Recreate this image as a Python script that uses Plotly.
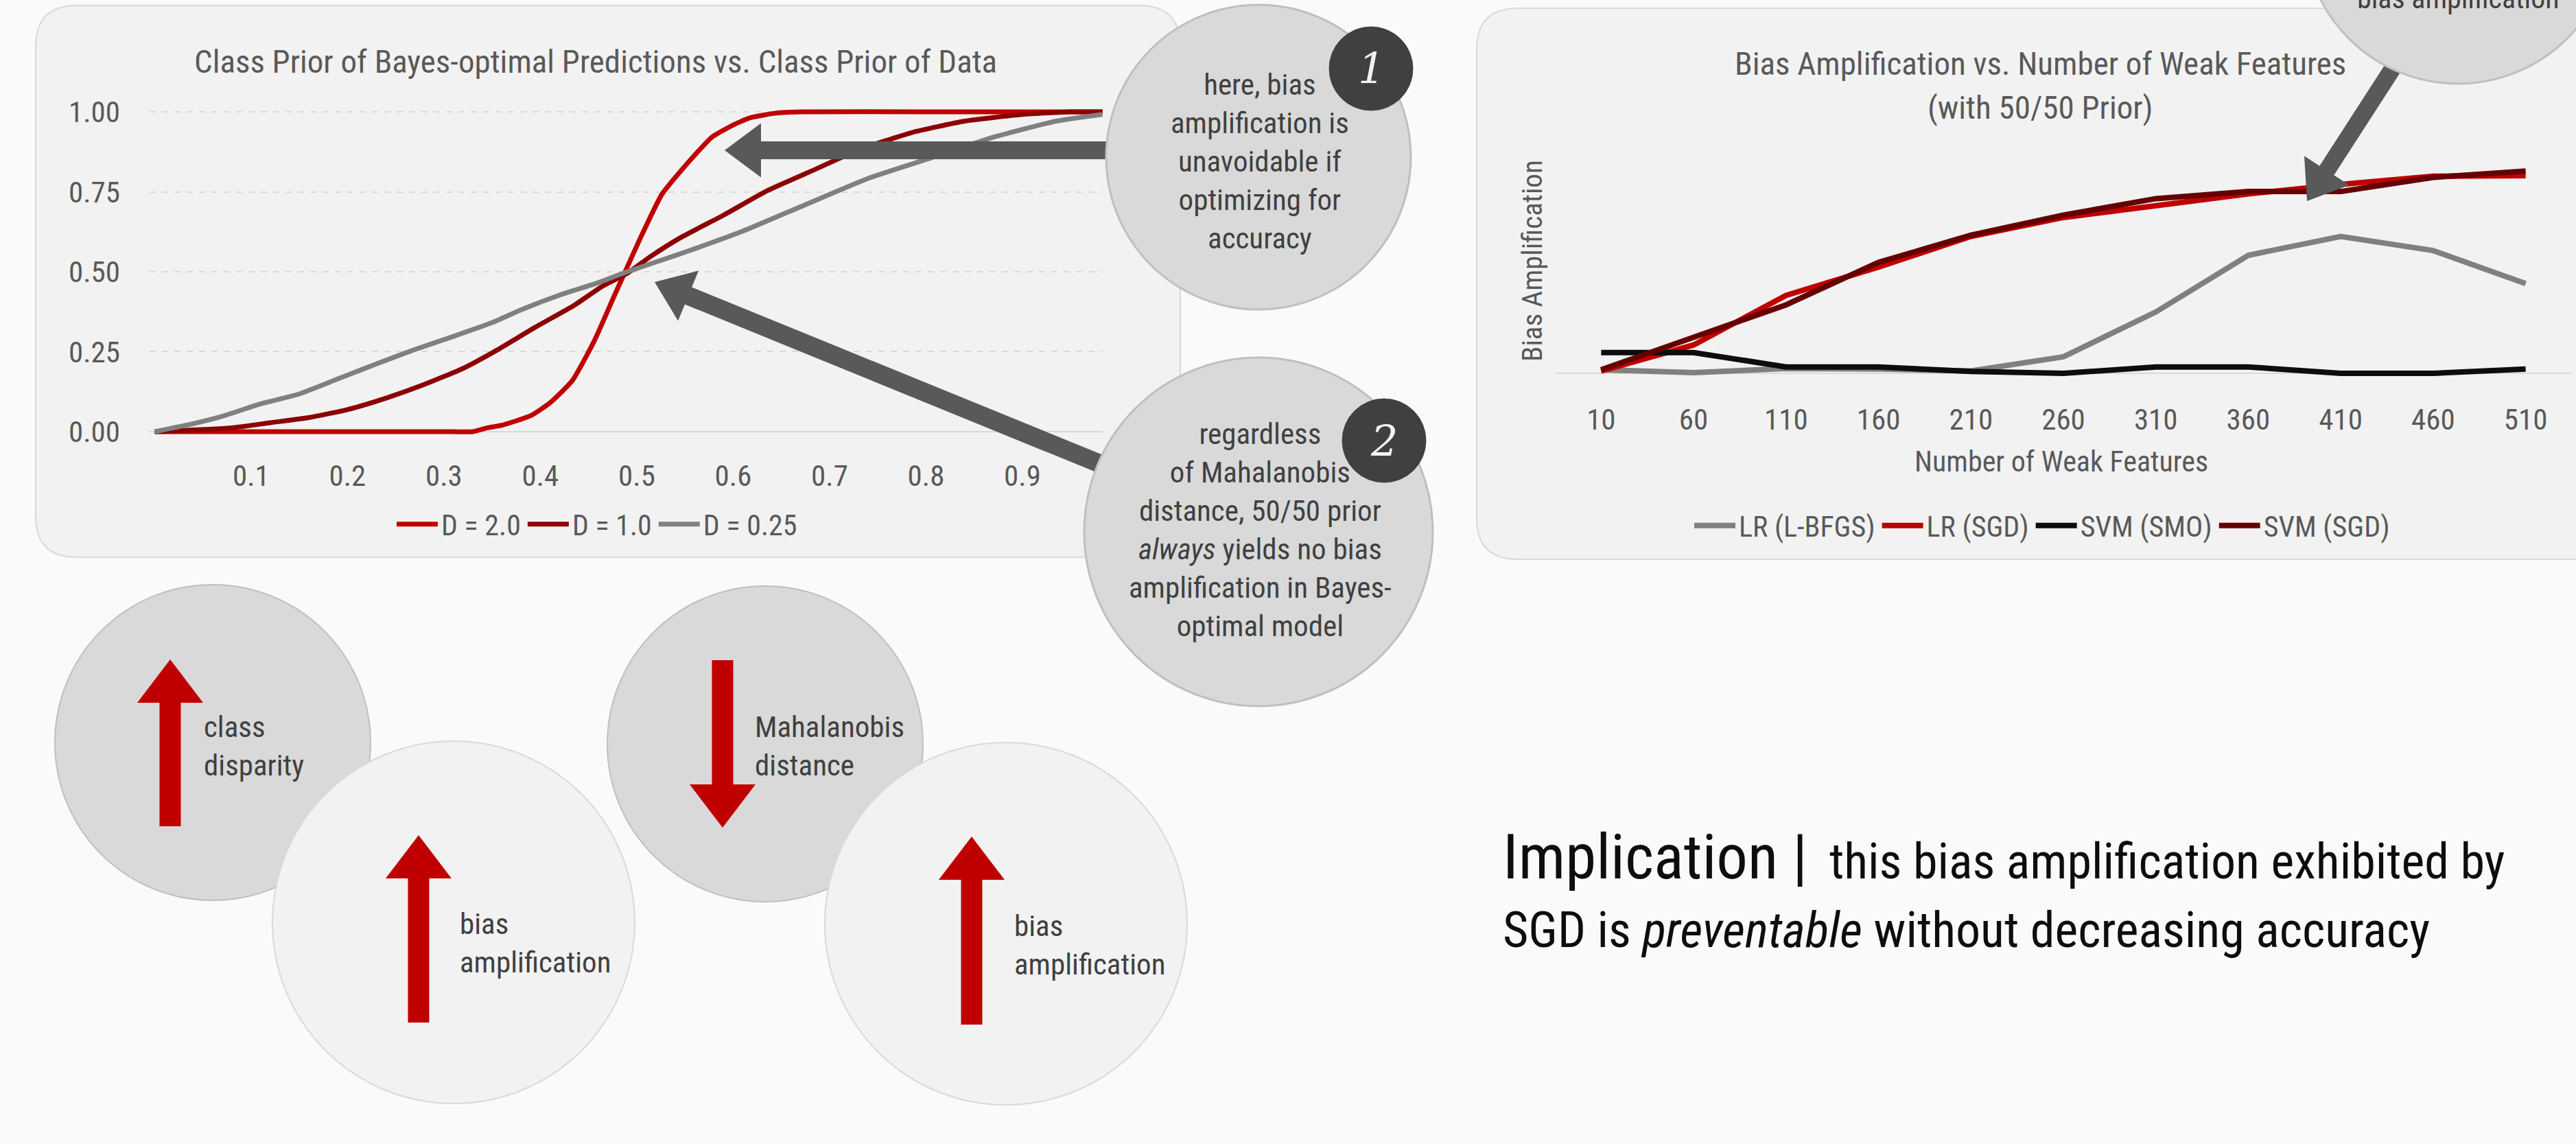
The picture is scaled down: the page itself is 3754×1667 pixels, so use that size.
import math
import plotly.graph_objects as go

W, H = 3754, 1667
FONT = "Roboto Condensed, DejaVu Sans Condensed, sans-serif"

# ---------------- data: left chart (class prior of data -> class prior of predictions) -------------
d20_prior = [0.0, 0.1, 0.2, 0.3, 0.33, 0.345, 0.36, 0.39, 0.41, 0.433, 0.456, 0.476, 0.493, 0.506,
             0.526, 0.545, 0.562, 0.578, 0.598, 0.617, 0.644, 0.67, 0.8, 0.983]
d20_pred = [0.0, 0.0, 0.0, 0.0, 0.0, 0.012, 0.02, 0.05, 0.09, 0.159, 0.284, 0.42, 0.534, 0.62,
            0.742, 0.813, 0.871, 0.921, 0.956, 0.981, 0.996, 1.0, 1.0, 1.0]

d10_prior = [0.0, 0.08, 0.12, 0.16, 0.20, 0.24, 0.28, 0.32, 0.355, 0.395, 0.435, 0.465, 0.49, 0.515,
             0.545, 0.59, 0.635, 0.685, 0.73, 0.785, 0.84, 0.90, 0.95, 0.983]
d10_pred = [0.0, 0.012, 0.028, 0.044, 0.069, 0.105, 0.148, 0.198, 0.255, 0.327, 0.395, 0.456, 0.495,
            0.549, 0.606, 0.677, 0.753, 0.820, 0.881, 0.935, 0.971, 0.992, 1.0, 1.0]

d025_prior = [0.0, 0.04, 0.07, 0.11, 0.15, 0.19, 0.23, 0.27, 0.31, 0.35, 0.38, 0.42, 0.46, 0.49,
              0.545, 0.61, 0.675, 0.74, 0.805, 0.87, 0.935, 0.983]
d025_pred = [0.0, 0.025, 0.048, 0.087, 0.118, 0.165, 0.212, 0.257, 0.298, 0.341, 0.381, 0.427, 0.466,
             0.5, 0.556, 0.627, 0.71, 0.792, 0.856, 0.921, 0.971, 0.992]

left_xticks = [0.1, 0.2, 0.3, 0.4, 0.5, 0.6, 0.7, 0.8, 0.9]
left_xticktext = ["0.1", "0.2", "0.3", "0.4", "0.5", "0.6", "0.7", "0.8", "0.9"]
left_yticks = [0.0, 0.25, 0.5, 0.75, 1.0]
left_yticktext = ["0.00", "0.25", "0.50", "0.75", "1.00"]

# ---------------- data: right chart (bias amplification vs number of weak features) -------------
features = ["10", "60", "110", "160", "210", "260", "310", "360", "410", "460", "510"]
lr_lbfgs = [0.015, 0.003, 0.02, 0.018, 0.01, 0.07, 0.26, 0.50, 0.58, 0.52, 0.38]
lr_sgd = [0.01, 0.12, 0.33, 0.45, 0.58, 0.66, 0.71, 0.76, 0.80, 0.835, 0.837]
svm_smo = [0.088, 0.088, 0.027, 0.027, 0.008, 0.0, 0.027, 0.027, 0.0, 0.0, 0.018]
svm_sgd = [0.015, 0.15, 0.29, 0.47, 0.585, 0.67, 0.74, 0.77, 0.77, 0.83, 0.857]


# ---------------- helpers (pixel -> paper) ----------------
def px(x):
    return x / W


def py(y):
    return 1 - y / H


def path_from(points, close=True):
    s = "M " + " L ".join(f"{px(x):.6f},{py(y):.6f}" for x, y in points)
    return s + (" Z" if close else "")


def rrect(x0, y0, x1, y1, r):
    P = lambda x, y: f"{px(x):.6f},{py(y):.6f}"
    return (f"M {P(x0 + r, y0)} L {P(x1 - r, y0)} Q {P(x1, y0)} {P(x1, y0 + r)} "
            f"L {P(x1, y1 - r)} Q {P(x1, y1)} {P(x1 - r, y1)} L {P(x0 + r, y1)} "
            f"Q {P(x0, y1)} {P(x0, y1 - r)} L {P(x0, y0 + r)} Q {P(x0, y0)} {P(x0 + r, y0)} Z")


def arrow(tip, tail, w, hl, hw):
    tx, ty = tip
    sx, sy = tail
    d = math.hypot(tx - sx, ty - sy)
    ux, uy = (tx - sx) / d, (ty - sy) / d
    nx, ny = -uy, ux
    bx, by = tx - hl * ux, ty - hl * uy
    pts = [(sx + nx * w / 2, sy + ny * w / 2), (bx + nx * w / 2, by + ny * w / 2),
           (bx + nx * hw / 2, by + ny * hw / 2), (tx, ty),
           (bx - nx * hw / 2, by - ny * hw / 2), (bx - nx * w / 2, by - ny * w / 2),
           (sx - nx * w / 2, sy - ny * w / 2)]
    return path_from(pts)


def circle(cx, cy, r, fill, line, lw=2, layer="above"):
    return dict(type="circle", xref="paper", yref="paper", x0=px(cx - r), x1=px(cx + r),
                y0=py(cy + r), y1=py(cy - r), fillcolor=fill, line=dict(color=line, width=lw),
                layer=layer)


fig = go.Figure()

fig.add_trace(go.Scatter(x=d20_prior, y=d20_pred, mode="lines", name="D = 2.0",
                         line=dict(color="#C00000", width=7, shape="spline", smoothing=0.5),
                         xaxis="x", yaxis="y", legend="legend"))
fig.add_trace(go.Scatter(x=d10_prior, y=d10_pred, mode="lines", name="D = 1.0",
                         line=dict(color="#8C0000", width=7, shape="spline", smoothing=0.5),
                         xaxis="x", yaxis="y", legend="legend"))
fig.add_trace(go.Scatter(x=d025_prior, y=d025_pred, mode="lines", name="D = 0.25",
                         line=dict(color="#808080", width=7, shape="spline", smoothing=0.5),
                         xaxis="x", yaxis="y", legend="legend"))

for name, vals, col in [("LR (L-BFGS)", lr_lbfgs, "#808080"), ("LR (SGD)", lr_sgd, "#C00000"),
                        ("SVM (SMO)", svm_smo, "#0D0D0D"), ("SVM (SGD)", svm_sgd, "#660000")]:
    fig.add_trace(go.Scatter(x=features, y=vals, mode="lines", name=name,
                             line=dict(color=col, width=8),
                             xaxis="x2", yaxis="y2", legend="legend2"))

TXT = "#595959"
tickfont = dict(family=FONT, size=43, color=TXT)

shapes = []
shapes.append(dict(type="path", xref="paper", yref="paper", path=rrect(52, 8, 1720, 812, 60),
                   fillcolor="#F2F2F2", line=dict(color="#D9D9D9", width=2), layer="below"))
shapes.append(dict(type="path", xref="paper", yref="paper", path=rrect(2152, 12, 3820, 815, 60),
                   fillcolor="#F2F2F2", line=dict(color="#D9D9D9", width=2), layer="below"))

GREY_ARROW = "#595959"
shapes.append(dict(type="path", xref="paper", yref="paper",
                   path=arrow((1056, 219), (1660, 219), 26, 53, 79),
                   fillcolor=GREY_ARROW, line=dict(width=0), layer="above"))
shapes.append(dict(type="path", xref="paper", yref="paper",
                   path=arrow((954, 411), (1660, 699), 27, 53, 79),
                   fillcolor=GREY_ARROW, line=dict(width=0), layer="above"))
shapes.append(dict(type="path", xref="paper", yref="paper",
                   path=arrow((3362, 293), (3530, 33), 25, 53, 78),
                   fillcolor=GREY_ARROW, line=dict(width=0), layer="above"))

shapes.append(circle(1834, 229, 222, "#D9D9D9", "#BFBFBF", 3))
shapes.append(circle(1834, 775, 254, "#D9D9D9", "#BFBFBF", 3))
shapes.append(circle(3582, -103, 225, "#D9D9D9", "#BFBFBF", 3))
shapes.append(circle(1998, 100, 61, "#404040", "#404040", 1))
shapes.append(circle(2017, 642, 61, "#404040", "#404040", 1))

shapes.append(circle(310, 1082, 230, "#D9D9D9", "#BFBFBF", 2))
shapes.append(circle(661, 1344, 264, "#F2F2F2", "#D9D9D9", 2))
shapes.append(circle(1115, 1084, 230, "#D9D9D9", "#BFBFBF", 2))
shapes.append(circle(1466, 1346, 264, "#F2F2F2", "#D9D9D9", 2))

RED = "#C00000"
for tip, tail in [((248, 961), (248, 1204)), ((610, 1217), (610, 1490)),
                  ((1053, 1206), (1053, 962)), ((1416, 1219), (1416, 1493))]:
    shapes.append(dict(type="path", xref="paper", yref="paper",
                       path=arrow(tip, tail, 31, 63, 96),
                       fillcolor=RED, line=dict(width=0), layer="above"))


def ann(text, x, y, size, color=TXT, xanchor="center", align="center", family=FONT, angle=0):
    return dict(text=text, x=px(x), y=py(y), xref="paper", yref="paper", showarrow=False,
                xanchor=xanchor, yanchor="middle", align=align, textangle=angle,
                font=dict(family=family, size=size, color=color))


BUB = "#404040"
annotations = [
    ann("Class Prior of Bayes-optimal Predictions vs. Class Prior of Data", 868, 89, 47),
    ann("Bias Amplification vs. Number of Weak Features", 2973, 92, 47),
    ann("(with 50/50 Prior)", 2973, 157, 47),
    ann("Bias Amplification", 2233, 380, 41, angle=-90),
    ann("Number of Weak Features", 3004, 672, 42),
    ann("here, bias<br>amplification is<br>unavoidable if<br>optimizing for<br>accuracy", 1836, 235, 43, BUB),
    ann("regardless<br>of Mahalanobis<br>distance, 50/50 prior<br><i>always</i> yields no bias<br>"
        "amplification in Bayes-<br>optimal model", 1836, 772, 43, BUB),
    ann("bias amplification", 3582, -2, 42, BUB),
    ann("<i>1</i>", 1998, 100, 62, "#F2F2F2", family="DejaVu Serif"),
    ann("<i>2</i>", 2017, 642, 62, "#F2F2F2", family="DejaVu Serif"),
    ann("class<br>disparity", 295, 1087, 43, BUB, xanchor="left", align="left"),
    ann("bias<br>amplification", 668, 1374, 43, BUB, xanchor="left", align="left"),
    ann("Mahalanobis<br>distance", 1098, 1087, 43, BUB, xanchor="left", align="left"),
    ann("bias<br>amplification", 1476, 1377, 43, BUB, xanchor="left", align="left"),
    ann("Implication |", 2188, 1249, 91, "#0D0D0D", xanchor="left", align="left"),
    ann("this bias amplification exhibited by", 2664, 1255, 72, "#0D0D0D", xanchor="left", align="left"),
    ann("SGD is <i>preventable</i> without decreasing accuracy", 2188, 1355, 72, "#0D0D0D",
        xanchor="left", align="left"),
]

fig.update_layout(
    width=W, height=H, autosize=False,
    margin=dict(l=0, r=0, t=0, b=0, pad=0, autoexpand=False),
    paper_bgcolor="#FAFAFA", plot_bgcolor="rgba(0,0,0,0)",
    font=dict(family=FONT, color=TXT),
    xaxis=dict(domain=[px(218), px(1607)], range=[-0.0053, 0.9833], tickvals=left_xticks,
               ticktext=left_xticktext, showgrid=False, zeroline=False, showline=False, ticks="",
               tickfont=tickfont, ticklabelstandoff=26, anchor="y", automargin=False),
    yaxis=dict(domain=[py(638.3), py(153.7)], range=[-0.02, 1.02], tickvals=left_yticks,
               ticktext=left_yticktext, showgrid=True, gridcolor="#D9D9D9", griddash="dash",
               gridwidth=2, zeroline=True, zerolinecolor="#D9D9D9", zerolinewidth=2,
               showline=False, ticks="", tickfont=tickfont, ticklabelstandoff=42, anchor="x",
               automargin=False),
    xaxis2=dict(domain=[px(2266), px(3748)], type="category", range=[-0.5, 10.5], showgrid=False,
                zeroline=False, showline=False, ticks="", tickfont=tickfont, ticklabelstandoff=28,
                anchor="y2", automargin=False),
    yaxis2=dict(domain=[py(554.3), py(200)], range=[-0.03, 1.0], showticklabels=False,
                showgrid=False, zeroline=True, zerolinecolor="#D9D9D9", zerolinewidth=2,
                showline=False, ticks="", anchor="x2", automargin=False),
    legend=dict(orientation="h", x=px(870), xanchor="center", y=py(764), yanchor="middle",
                font=dict(family=FONT, size=42, color=TXT), bgcolor="rgba(0,0,0,0)",
                traceorder="normal", itemwidth=60),
    legend2=dict(orientation="h", x=px(2976), xanchor="center", y=py(766), yanchor="middle",
                 font=dict(family=FONT, size=42, color=TXT), bgcolor="rgba(0,0,0,0)",
                 traceorder="normal", itemwidth=60),
    shapes=shapes,
    annotations=annotations,
    showlegend=True,
)

fig.write_html("out.html", post_script="document.body.style.margin='0';document.body.style.overflow='hidden';")
